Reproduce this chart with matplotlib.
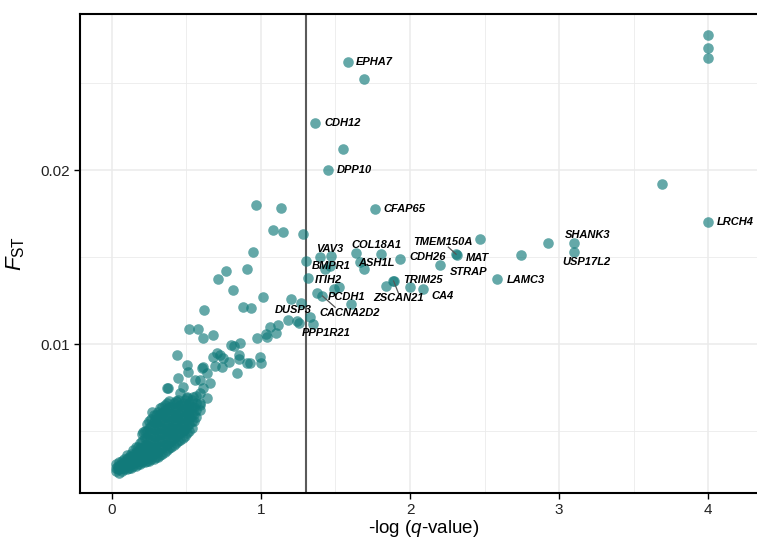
import matplotlib
matplotlib.use("Agg")
import matplotlib.pyplot as plt

plt.rcParams['font.family'] = ['Liberation Sans', 'DejaVu Sans']
plt.rcParams['mathtext.fontset'] = 'custom'
plt.rcParams['mathtext.rm'] = 'Liberation Sans'
plt.rcParams['mathtext.it'] = 'Liberation Sans:italic'

# labelled genes: -log(q) and Fst
gene_names = ['EPHA7', 'CDH12', 'DPP10', 'CFAP65', 'TMEM150A', 'MAT', 'CDH26', 'STRAP',
              'COL18A1', 'ASH1L', 'VAV3', 'BMPR1', 'ITIH2', 'PCDH1', 'CACNA2D2', 'ZSCAN21',
              'TRIM25', 'CA4', 'DUSP3', 'PPP1R21', 'LAMC3', 'SHANK3', 'USP17L2', 'LRCH4']
gene_x = [1.581, 1.364, 1.450, 1.762, 2.309, 2.314, 1.935, 2.199,
          1.807, 1.691, 1.398, 1.432, 1.315, 1.378, 1.413, 1.890,
          1.886, 2.085, 1.331, 1.349, 2.586, 3.098, 3.098, 4.000]
gene_y = [0.02622, 0.02270, 0.02000, 0.01776, 0.01516, 0.01514, 0.01487, 0.01454,
          0.01516, 0.01429, 0.01502, 0.01429, 0.01381, 0.01295, 0.01276, 0.01362,
          0.01364, 0.01318, 0.01157, 0.01115, 0.01372, 0.01582, 0.01527, 0.01701]

# unlabelled outliers and mid-range points
other_x = [4.000, 4.000, 4.000, 3.693, 1.693, 1.554, 2.467, 2.745, 2.923,
           1.635, 1.662, 1.470, 1.465, 1.302, 1.521, 1.492, 1.604, 1.841, 2.002,
           0.966, 1.132, 1.078, 1.150, 1.284, 0.946, 0.769, 0.910, 0.715, 0.814,
           1.013, 1.201, 1.268, 0.883, 0.937, 0.617, 1.185, 1.242, 1.257, 1.118,
           1.062, 1.036, 1.044, 1.101, 0.973, 0.521, 0.581, 0.615, 0.682, 0.436,
           0.503, 0.514, 0.604, 0.799, 0.821, 0.861, 0.682, 0.705, 0.727, 0.749,
           0.783, 0.850, 0.856, 0.906, 0.928, 0.995, 1.000, 0.693, 0.738, 0.615,
           0.839, 0.638, 0.559, 0.593, 0.660, 0.615, 0.481, 0.380, 0.458, 0.503,
           0.548, 0.638, 0.593, 0.526, 0.436, 0.336, 0.268, 0.291, 0.436, 0.526,
           0.481, 0.413, 0.212, 0.447, 0.369]
other_y = [0.02776, 0.02701, 0.02644, 0.01920, 0.02523, 0.02122, 0.01602, 0.01510, 0.01582,
           0.01525, 0.01473, 0.01507, 0.01448, 0.01479, 0.01326, 0.01314, 0.01230, 0.01335, 0.01326,
           0.01801, 0.01780, 0.01653, 0.01642, 0.01630, 0.01529, 0.01420, 0.01433, 0.01372, 0.01310,
           0.01268, 0.01257, 0.01237, 0.01214, 0.01209, 0.01197, 0.01138, 0.01134, 0.01121, 0.01109,
           0.01099, 0.01057, 0.01042, 0.01065, 0.01033, 0.01086, 0.01086, 0.01033, 0.01052, 0.00937,
           0.00879, 0.00841, 0.00864, 0.00994, 0.00986, 0.01004, 0.00927, 0.00947, 0.00937, 0.00918,
           0.00898, 0.00937, 0.00912, 0.00889, 0.00889, 0.00927, 0.00889, 0.00874, 0.00870, 0.00870,
           0.00832, 0.00832, 0.00793, 0.00793, 0.00774, 0.00745, 0.00755, 0.00745, 0.00717, 0.00697,
           0.00697, 0.00688, 0.00649, 0.00630, 0.00668, 0.00602, 0.00611, 0.00563, 0.00582, 0.00573,
           0.00506, 0.00487, 0.00496, 0.00803, 0.00749]

# dense low-significance bulk
bulk_x = [0.03, 0.03, 0.03,
          0.05, 0.05, 0.05, 0.05,
          0.07, 0.07, 0.07, 0.07,
          0.10, 0.10, 0.10, 0.10, 0.10,
          0.13, 0.13, 0.13, 0.13, 0.13,
          0.16, 0.16, 0.16, 0.16, 0.16, 0.16,
          0.19, 0.19, 0.19, 0.19, 0.19, 0.19,
          0.22, 0.22, 0.22, 0.22, 0.22, 0.22, 0.22,
          0.25, 0.25, 0.25, 0.25, 0.25, 0.25, 0.25, 0.25,
          0.28, 0.28, 0.28, 0.28, 0.28, 0.28, 0.28, 0.28,
          0.31, 0.31, 0.31, 0.31, 0.31, 0.31, 0.31, 0.31,
          0.34, 0.34, 0.34, 0.34, 0.34, 0.34, 0.34, 0.34,
          0.37, 0.37, 0.37, 0.37, 0.37, 0.37, 0.37, 0.37,
          0.40, 0.40, 0.40, 0.40, 0.40, 0.40, 0.40,
          0.43, 0.43, 0.43, 0.43, 0.43, 0.43, 0.43,
          0.46, 0.46, 0.46, 0.46, 0.46, 0.46,
          0.49, 0.49, 0.49, 0.49, 0.49, 0.49,
          0.52, 0.52, 0.52, 0.52, 0.52,
          0.55, 0.55, 0.55]
bulk_y = [0.0027, 0.0029, 0.0031,
          0.0026, 0.0028, 0.0030, 0.0032,
          0.0027, 0.0029, 0.0031, 0.0033,
          0.0028, 0.0030, 0.0032, 0.0034, 0.0036,
          0.0029, 0.0031, 0.0033, 0.0035, 0.0037,
          0.0030, 0.0032, 0.0034, 0.0036, 0.0038, 0.0041,
          0.0031, 0.0033, 0.0035, 0.0037, 0.0040, 0.0043,
          0.0032, 0.0034, 0.0036, 0.0039, 0.0042, 0.0046, 0.0050,
          0.0033, 0.0035, 0.0038, 0.0041, 0.0044, 0.0048, 0.0052, 0.0056,
          0.0034, 0.0037, 0.0040, 0.0043, 0.0047, 0.0051, 0.0055, 0.0059,
          0.0035, 0.0038, 0.0041, 0.0045, 0.0049, 0.0053, 0.0057, 0.0061,
          0.0037, 0.0040, 0.0044, 0.0048, 0.0052, 0.0056, 0.0060, 0.0064,
          0.0039, 0.0042, 0.0046, 0.0050, 0.0054, 0.0058, 0.0062, 0.0066,
          0.0041, 0.0044, 0.0048, 0.0052, 0.0056, 0.0060, 0.0064,
          0.0043, 0.0047, 0.0051, 0.0055, 0.0059, 0.0063, 0.0067,
          0.0045, 0.0049, 0.0053, 0.0057, 0.0061, 0.0065,
          0.0047, 0.0051, 0.0055, 0.0059, 0.0063, 0.0068,
          0.0050, 0.0054, 0.0058, 0.0062, 0.0066,
          0.0056, 0.0060, 0.0064]

# more bulk points lying between the ones above
bulk2_x = [0.04, 0.04,
           0.085, 0.085, 0.085, 0.085,
           0.115, 0.115, 0.115, 0.115,
           0.145, 0.145, 0.145, 0.145, 0.145,
           0.175, 0.175, 0.175, 0.175, 0.175,
           0.205, 0.205, 0.205, 0.205, 0.205, 0.205,
           0.235, 0.235, 0.235, 0.235, 0.235, 0.235, 0.235,
           0.265, 0.265, 0.265, 0.265, 0.265, 0.265, 0.265,
           0.295, 0.295, 0.295, 0.295, 0.295, 0.295, 0.295,
           0.325, 0.325, 0.325, 0.325, 0.325, 0.325, 0.325, 0.325,
           0.355, 0.355, 0.355, 0.355, 0.355, 0.355, 0.355, 0.355,
           0.385, 0.385, 0.385, 0.385, 0.385, 0.385, 0.385, 0.385,
           0.415, 0.415, 0.415, 0.415, 0.415, 0.415, 0.415,
           0.445, 0.445, 0.445, 0.445, 0.445, 0.445, 0.445,
           0.475, 0.475, 0.475, 0.475, 0.475, 0.475,
           0.505, 0.505, 0.505, 0.505, 0.505, 0.505,
           0.535, 0.535, 0.535, 0.535, 0.535,
           0.565, 0.565, 0.565, 0.565,
           0.595, 0.595, 0.595]
bulk2_y = [0.0028, 0.0030,
           0.0028, 0.0030, 0.0032, 0.0034,
           0.0029, 0.0031, 0.0033, 0.0035,
           0.0030, 0.0032, 0.0034, 0.0036, 0.0039,
           0.0031, 0.0033, 0.0035, 0.0038, 0.0041,
           0.0032, 0.0034, 0.0037, 0.0040, 0.0044, 0.0048,
           0.0033, 0.0036, 0.0039, 0.0042, 0.0046, 0.0050, 0.0054,
           0.0034, 0.0037, 0.0041, 0.0045, 0.0049, 0.0053, 0.0057,
           0.0035, 0.0039, 0.0043, 0.0047, 0.0051, 0.0055, 0.0059,
           0.0036, 0.0040, 0.0044, 0.0048, 0.0052, 0.0056, 0.0060, 0.0063,
           0.0038, 0.0042, 0.0046, 0.0050, 0.0054, 0.0058, 0.0062, 0.0065,
           0.0040, 0.0044, 0.0048, 0.0052, 0.0056, 0.0060, 0.0064, 0.0067,
           0.0042, 0.0046, 0.0050, 0.0054, 0.0058, 0.0062, 0.0066,
           0.0044, 0.0048, 0.0052, 0.0056, 0.0060, 0.0064, 0.0068,
           0.0046, 0.0050, 0.0054, 0.0058, 0.0062, 0.0066,
           0.0049, 0.0053, 0.0057, 0.0061, 0.0065, 0.0069,
           0.0052, 0.0056, 0.0060, 0.0064, 0.0068,
           0.0058, 0.0062, 0.0066, 0.0070,
           0.0062, 0.0066, 0.0072]

q_cutoff = 1.3

# label placement: (ha, x, y, leader anchor or None)
label_pos = {
    'EPHA7': ('left', 1.639, 0.02620, None),
    'CDH12': ('left', 1.427, 0.02270, None),
    'DPP10': ('left', 1.509, 0.02000, None),
    'CFAP65': ('left', 1.823, 0.01776, None),
    'TMEM150A': ('center', 2.220, 0.01584, (2.257, 0.01557)),
    'MAT': ('left', 2.371, 0.01496, None),
    'CDH26': ('left', 1.997, 0.01502, None),
    'STRAP': ('left', 2.266, 0.01414, None),
    'COL18A1': ('center', 1.776, 0.01569, None),
    'ASH1L': ('center', 1.778, 0.01467, None),
    'VAV3': ('center', 1.464, 0.01546, None),
    'BMPR1': ('center', 1.473, 0.01448, None),
    'ITIH2': ('center', 1.456, 0.01368, None),
    'PCDH1': ('center', 1.577, 0.01272, None),
    'CACNA2D2': ('center', 1.594, 0.01180, (1.498, 0.01211)),
    'ZSCAN21': ('center', 1.921, 0.01263, (1.923, 0.01291)),
    'TRIM25': ('left', 1.953, 0.01368, None),
    'CA4': ('center', 2.220, 0.01276, None),
    'DUSP3': ('center', 1.219, 0.01195, None),
    'PPP1R21': ('center', 1.435, 0.01061, None),
    'LAMC3': ('left', 2.651, 0.01366, None),
    'SHANK3': ('center', 3.193, 0.01628, None),
    'USP17L2': ('center', 3.185, 0.01473, None),
    'LRCH4': ('left', 4.060, 0.01701, None),
}

teal = '#117A7A'

fig = plt.figure(figsize=(7.57, 5.43), dpi=100)
ax = fig.add_axes([80 / 757, 1 - 493 / 543, 1 - 80 / 757, (493 - 14) / 543])

ax.set_xlim(-0.213, 4.327)
ax.set_ylim(0.001437, 0.028966)

ax.set_xticks([0, 1, 2, 3, 4])
ax.set_xticks([0.5, 1.5, 2.5, 3.5], minor=True)
ax.set_yticks([0.01, 0.02])
ax.set_yticklabels(['0.01', '0.02'])
ax.set_yticks([0.005, 0.015, 0.025], minor=True)
ax.grid(True, which='major', color='#ebebeb', linewidth=1.1, zorder=0)
ax.grid(True, which='minor', color='#ebebeb', linewidth=0.6, zorder=0)
ax.set_axisbelow(True)
ax.tick_params(which='minor', length=0)
ax.tick_params(which='major', length=4, width=1, color='black', labelsize=11, labelcolor='#222222')

for s in ['left', 'top', 'bottom']:
    ax.spines[s].set_linewidth(1.5)
    ax.spines[s].set_color('black')
ax.spines['right'].set_visible(False)

ax.axvline(q_cutoff, color='#5a5a5a', linewidth=1.5, zorder=1.5)

pt = dict(s=58, color=teal, alpha=0.65, linewidths=0, zorder=2)
ax.scatter(bulk_x, bulk_y, **pt)
ax.scatter(bulk2_x, bulk2_y, **pt)
ax.scatter(other_x, other_y, **pt)
ax.scatter(gene_x, gene_y, **pt)

for name, gx, gy in zip(gene_names, gene_x, gene_y):
    ha, tx, ty, anchor = label_pos[name]
    if anchor is not None:
        ax.plot([gx, anchor[0]], [gy, anchor[1]], color='#555555', linewidth=0.9, zorder=2.5)
    ax.text(tx, ty, name, ha=ha, va='center', fontsize=8, fontweight='bold',
            fontstyle='italic', color='black', zorder=3)

ax.set_xlabel(r'-log ($q$-value)', fontsize=13.5)
ax.set_ylabel(r'$\mathit{F}_{\mathrm{ST}}$', fontsize=16)
ax.xaxis.set_label_coords(0.508, -0.052)
ax.yaxis.set_label_coords(-0.078, 0.5)

fig.savefig('out.png', dpi=100)
